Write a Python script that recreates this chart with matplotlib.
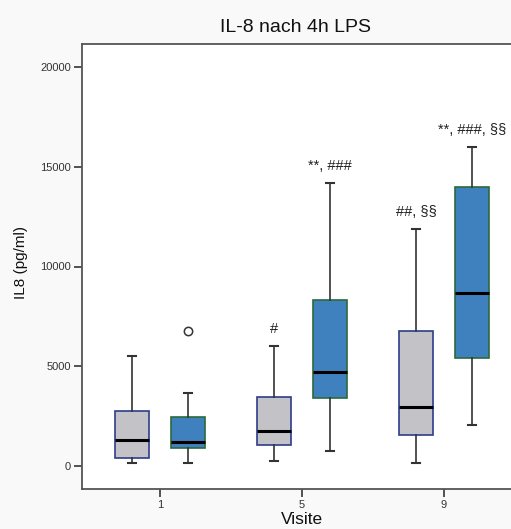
import matplotlib
matplotlib.use("Agg")
import matplotlib.pyplot as plt

plt.rcParams['font.family'] = ['Liberation Sans', 'DejaVu Sans']

# Visite groups and the two conditions per visit
visits = ['1', '5', '9']
# (whisker low, Q1, median, Q3, whisker high)
grey_low = [150, 250, 150]
grey_q1 = [400, 1050, 1550]
grey_med = [1300, 1750, 2950]
grey_q3 = [2750, 3450, 6750]
grey_high = [5500, 6000, 11900]

blue_low = [150, 750, 2050]
blue_q1 = [900, 3400, 5400]
blue_med = [1200, 4700, 8650]
blue_q3 = [2450, 8300, 14000]
blue_high = [3650, 14200, 16000]

grey_fliers = [[], [], []]
blue_fliers = [[6750], [], []]

grey_notes = ['', '#', '##, §§']
blue_notes = ['', '**, ###', '**, ###, §§']


def make_stats(low, q1, med, q3, high, fliers):
    stats = []
    for i in range(len(low)):
        stats.append(dict(whislo=low[i], q1=q1[i], med=med[i], q3=q3[i],
                          whishi=high[i], fliers=fliers[i]))
    return stats


fig = plt.figure(figsize=(5.11, 5.29), dpi=100)
fig.patch.set_facecolor('#f9f9f9')
ax = fig.add_axes([82 / 511, 40 / 529, (525 - 82) / 511, 445 / 529])
ax.set_facecolor('white')

off = 0.197
width = 0.24
base = list(range(len(visits)))

groups = [
    (make_stats(grey_low, grey_q1, grey_med, grey_q3, grey_high, grey_fliers),
     [b - off for b in base], '#c3c3c7', '#2c3d8c', grey_high, grey_notes),
    (make_stats(blue_low, blue_q1, blue_med, blue_q3, blue_high, blue_fliers),
     [b + off for b in base], '#3f80bf', '#2a6a3a', blue_high, blue_notes),
]

for stats, pos, fill, edge, highs, notes in groups:
    ax.bxp(stats, positions=pos, widths=width, patch_artist=True,
           showfliers=True,
           boxprops=dict(facecolor=fill, edgecolor=edge, linewidth=1.2),
           medianprops=dict(color='black', linewidth=2.2),
           whiskerprops=dict(color='#333333', linewidth=1.2),
           capprops=dict(color='#333333', linewidth=1.5),
           capwidths=0.06,
           flierprops=dict(marker='o', markerfacecolor='none',
                           markeredgecolor='#333333', markersize=6,
                           markeredgewidth=1.1))
    for p, h, note in zip(pos, highs, notes):
        if note:
            ax.text(p, h + 500, note, ha='center', va='bottom',
                    fontsize=10.5, color='#222222')

ax.set_xlim(-0.549, 2.57)
ax.set_ylim(-1150, 21150)
ax.set_xticks(base)
ax.set_xticklabels(visits)
ax.set_yticks([0, 5000, 10000, 15000, 20000])
ax.tick_params(axis='both', direction='out', length=6, width=1.3,
               color='#444444', labelsize=8, labelcolor='#333333', pad=2)
for side in ['left', 'bottom', 'top', 'right']:
    ax.spines[side].set_color('#555555')
    ax.spines[side].set_linewidth(1.3)

fig.text(295 / 511, 1 - 27 / 529, 'IL-8 nach 4h LPS', ha='center',
         va='center', fontsize=14, color='#111111')
fig.text(21 / 511, 1 - 262 / 529, 'IL8 (pg/ml)', ha='center', va='center',
         rotation=90, fontsize=11, color='#111111')
fig.text(302 / 511, 1 - 520 / 529, 'Visite', ha='center', va='center',
         fontsize=12.5, color='#111111')

fig.savefig('out.png', dpi=100, facecolor=fig.get_facecolor())
